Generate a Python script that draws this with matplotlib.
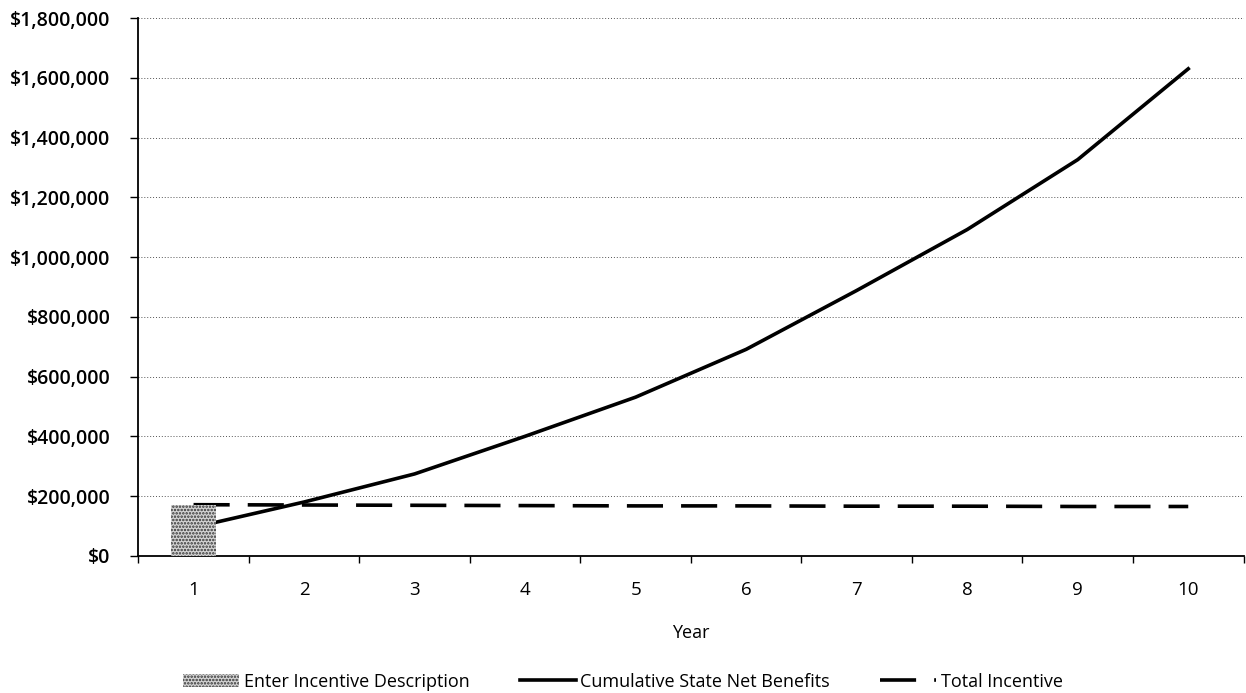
import matplotlib.pyplot as plt
from matplotlib.ticker import FuncFormatter, FixedLocator
import numpy as np

years = ['1', '2', '3', '4', '5', '6', '7', '8', '9', '10']
incentive_desc = [170000, 0, 0, 0, 0, 0, 0, 0, 0, 0]
net_benefits = [95000, 180000, 274000, 400000, 531000, 691000, 888000, 1092000, 1326000, 1630000]
total_incentive = [171000, 170000, 169000, 168000, 167000, 167000, 166000, 166000, 165000, 165000]

plt.rcParams['font.family'] = ['Open Sans', 'DejaVu Sans']
plt.rcParams['hatch.linewidth'] = 1.2

fig = plt.figure(figsize=(12.46, 6.93), dpi=100)
ax = fig.add_axes([0.111, 0.198, 0.887, 0.776])

x = np.arange(len(years))

# lines first, bar drawn over them like the original
ax.plot(x, net_benefits, color='black', lw=2.6, zorder=3, label='Cumulative State Net Benefits')
ax.plot(x, total_incentive, color='black', lw=2.6, dashes=(10, 5), zorder=3, label='Total Incentive')
ax.bar(x[:1], incentive_desc[:1], width=0.4, facecolor='#d4d4d4', edgecolor='#333333',
       hatch='.....', linewidth=0, zorder=4, label='Enter Incentive Description')

ax.set_xlim(-0.5, len(years) - 0.5)
ax.set_ylim(0, 1800000)
ax.set_yticks(np.arange(0, 1800001, 200000))
ax.yaxis.set_major_formatter(FuncFormatter(lambda v, p: f'${v:,.0f}'))
ax.grid(axis='y', color='#555555', linestyle=(0, (1, 2)), linewidth=0.7, zorder=0)

ax.set_xticks(x)
ax.set_xticklabels(years)
ax.tick_params(axis='x', which='major', length=0, pad=18, labelsize=13.5)
ax.xaxis.set_minor_locator(FixedLocator(np.arange(-0.5, len(years), 1)))
ax.tick_params(axis='x', which='minor', length=5, direction='out', width=1)
ax.tick_params(axis='y', length=6, direction='out', width=1, labelsize=14, pad=14)
for lbl in ax.get_yticklabels():
    lbl.set_fontweight('semibold')

for s in ['top', 'right']:
    ax.spines[s].set_visible(False)
ax.spines['left'].set_linewidth(1.3)
ax.spines['bottom'].set_linewidth(1.3)

ax.set_xlabel('Year', fontsize=13, labelpad=18)

handles, labels = ax.get_legend_handles_labels()
order = [2, 0, 1]
fig.legend([handles[i] for i in order], [labels[i] for i in order], loc='lower center',
           bbox_to_anchor=(0.5, -0.02), ncol=3, frameon=False, fontsize=13,
           columnspacing=2.8, handlelength=3.1, handletextpad=0.25)

fig.savefig('out.png', dpi=100)
